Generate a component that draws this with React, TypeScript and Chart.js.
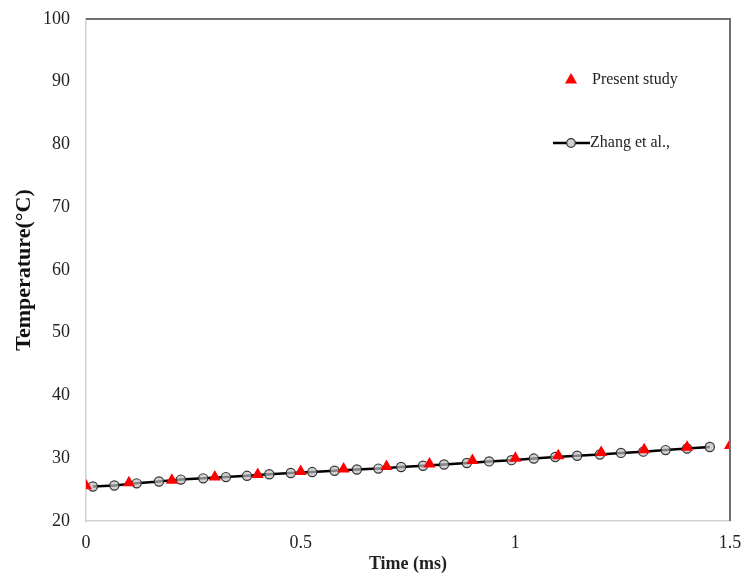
import React, { useEffect, useRef } from "react";
import { Chart, registerables } from "chart.js";

Chart.register(...registerables);

// Present study (triangles)
const presentTime = [0, 0.1, 0.2, 0.3, 0.4, 0.5, 0.6, 0.7, 0.8, 0.9, 1.0, 1.1, 1.2, 1.3, 1.4, 1.5];
const presentTemp = [25.6, 26.1, 26.5, 27.0, 27.4, 27.9, 28.3, 28.7, 29.1, 29.65, 30.0, 30.4, 30.9, 31.35, 31.75, 32.05];

// Zhang et al. (line with circles)
const zhangTime = [
  0.016, 0.066, 0.118, 0.17, 0.221, 0.273, 0.326, 0.375, 0.427, 0.477,
  0.527, 0.579, 0.631, 0.681, 0.734, 0.785, 0.834, 0.887, 0.939, 0.991,
  1.043, 1.093, 1.144, 1.197, 1.246, 1.298, 1.35, 1.4, 1.453,
];
const zhangTemp = [
  25.5, 25.65, 26.0, 26.3, 26.6, 26.8, 27.0, 27.2, 27.45, 27.65,
  27.8, 28.0, 28.2, 28.35, 28.6, 28.8, 29.0, 29.25, 29.5, 29.7,
  29.95, 30.2, 30.4, 30.6, 30.85, 31.05, 31.3, 31.55, 31.8,
];

const xTicks = [0, 0.5, 1, 1.5];
const yTicks = [20, 30, 40, 50, 60, 70, 80, 90, 100];
const seriesNames = ["Present study", "Zhang et al.,"];
const xTitle = "Time (ms)";
const yTitle = "Temperature(°C)";

const FONT = "'Liberation Serif', 'Times New Roman', serif";

const framePlugin = {
  id: "frameAndLegend",
  afterDraw(chart: any) {
    const { ctx, chartArea } = chart;
    const { left, right, top, bottom } = chartArea;
    ctx.save();
    // top and right borders (dark gray)
    ctx.strokeStyle = "#707070";
    ctx.lineWidth = 2;
    ctx.beginPath();
    ctx.moveTo(left, top);
    ctx.lineTo(right, top);
    ctx.lineTo(right, bottom);
    ctx.stroke();

    // legend
    const lx = 571;
    ctx.font = `16px ${FONT}`;
    ctx.textBaseline = "middle";
    ctx.textAlign = "left";
    const y1 = 80;
    const y2 = 143;
    // triangle marker
    const r = 7;
    ctx.fillStyle = "#ff0000";
    ctx.beginPath();
    ctx.moveTo(lx, y1 - r);
    ctx.lineTo(lx + r * 0.866, y1 + r * 0.5);
    ctx.lineTo(lx - r * 0.866, y1 + r * 0.5);
    ctx.closePath();
    ctx.fill();
    ctx.fillStyle = "#222";
    ctx.fillText(seriesNames[0], lx + 21, y1);
    // line + circle
    ctx.strokeStyle = "#000";
    ctx.lineWidth = 2.5;
    ctx.beginPath();
    ctx.moveTo(lx - 18, y2);
    ctx.lineTo(lx + 19, y2);
    ctx.stroke();
    ctx.beginPath();
    ctx.arc(lx, y2, 4.3, 0, Math.PI * 2);
    ctx.fillStyle = "#d0d0d0";
    ctx.fill();
    ctx.lineWidth = 1.2;
    ctx.strokeStyle = "#333";
    ctx.stroke();
    ctx.fillStyle = "#222";
    ctx.fillText(seriesNames[1], lx + 19, y2);
    ctx.restore();
  },
};

export default function App() {
  const canvasRef = useRef<HTMLCanvasElement | null>(null);

  useEffect(() => {
    if (!canvasRef.current) return;
    const chart = new Chart(canvasRef.current, {
      type: "scatter",
      data: {
        datasets: [
          {
            label: seriesNames[0],
            data: presentTime.map((t, i) => ({ x: t, y: presentTemp[i] })),
            pointStyle: "triangle",
            pointRadius: 7,
            pointBackgroundColor: "#ff0000",
            pointBorderColor: "#ff0000",
            pointBorderWidth: 0,
            showLine: false,
            order: 0,
          },
          {
            label: seriesNames[1],
            data: zhangTime.map((t, i) => ({ x: t, y: zhangTemp[i] })),
            showLine: true,
            borderColor: "#000",
            borderWidth: 2.5,
            pointStyle: "circle",
            pointRadius: 4.6,
            pointBackgroundColor: "rgba(190,190,190,0.7)",
            pointBorderColor: "#333",
            pointBorderWidth: 1.2,
            order: 1,
          },
        ],
      },
      options: {
        animation: false,
        responsive: true,
        maintainAspectRatio: false,
        layout: { padding: { left: 0, right: 12, top: 19, bottom: 0 } },
        plugins: {
          legend: { display: false },
          tooltip: { enabled: false },
        },
        scales: {
          x: {
            type: "linear",
            min: 0,
            max: 1.5,
            afterBuildTicks: (scale: any) => {
              scale.ticks = xTicks.map((v) => ({ value: v }));
            },
            afterFit: (scale: any) => {
              scale.height = 54;
              scale.paddingLeft = 0;
              scale.paddingRight = 0;
            },
            grid: { display: false, drawTicks: false },
            border: { display: true, color: "#d0d0d0", width: 1.5 },
            ticks: {
              color: "#222",
              font: { family: FONT, size: 18 },
              padding: 11,
              maxRotation: 0,
              callback: (v: any) => String(v),
            },
            title: {
              display: true,
              text: xTitle,
              color: "#222",
              font: { family: FONT, size: 18, weight: "bold" },
              padding: { top: 0, bottom: 0 },
            },
          },
          y: {
            type: "linear",
            min: 20,
            max: 100,
            afterBuildTicks: (scale: any) => {
              scale.ticks = yTicks.map((v) => ({ value: v }));
            },
            afterFit: (scale: any) => {
              scale.width = 86;
              scale.paddingTop = 0;
              scale.paddingBottom = 0;
            },
            grid: { display: false, drawTicks: false },
            border: { display: true, color: "#d0d0d0", width: 1.5 },
            ticks: {
              color: "#222",
              font: { family: FONT, size: 18 },
              padding: 16,
            },
            title: {
              display: true,
              text: yTitle,
              color: "#111",
              font: { family: FONT, size: 22, weight: "bold" },
              padding: { top: 11, bottom: 0 },
            },
          },
        },
      },
      plugins: [framePlugin],
    } as any);
    return () => chart.destroy();
  }, []);

  return (
    <div style={{ position: "fixed", left: 0, top: 0, width: 742, height: 575, background: "#fff" }}>
      <canvas ref={canvasRef} />
    </div>
  );
}
